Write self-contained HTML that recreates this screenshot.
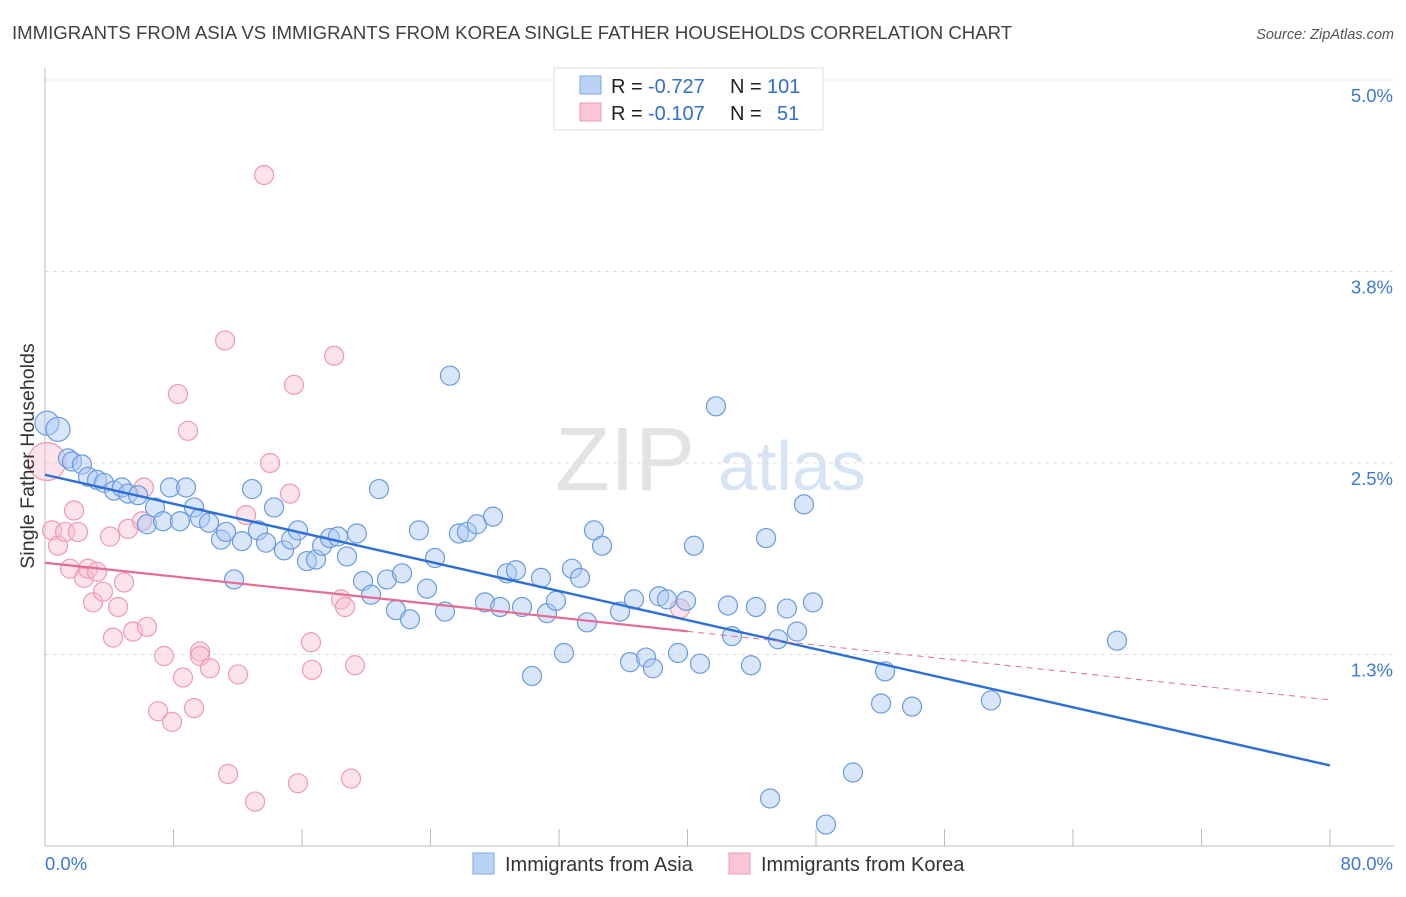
<!DOCTYPE html>
<html><head><meta charset="utf-8"><style>
body{margin:0;background:#fff;font-family:"Liberation Sans",sans-serif;}
svg text{font-family:"Liberation Sans",sans-serif;}
</style></head><body>
<svg id="chart" width="1406" height="892">
<text x="12" y="39" font-size="18.6" fill="#404040">IMMIGRANTS FROM ASIA VS IMMIGRANTS FROM KOREA SINGLE FATHER HOUSEHOLDS CORRELATION CHART</text>
<text x="1394" y="39" font-size="14.5" fill="#555" text-anchor="end" font-style="italic">Source: ZipAtlas.com</text>
<g>
<text x="555" y="490" font-size="90" fill="#e3e3e3" font-family="Liberation Serif">ZIP</text>
<text x="718" y="490" font-size="70" fill="#d6e4f4">atlas</text>
</g>
<g id="grid"></g>
<g id="axes"></g>
<g id="marks"></g>
<g>
<rect x="554" y="68" width="269" height="62" fill="#fff" stroke="#ddd"/>
<rect x="580" y="76" width="21" height="18" fill="#b9d3f5" stroke="#7eaae8"/>
<rect x="580" y="103" width="21" height="18" fill="#f8c6d5" stroke="#ee9ab4"/>
<text x="611" y="93" font-size="20" fill="#222">R =</text>
<text x="648" y="93" font-size="20" fill="#2f6fd0">-0.727</text>
<text x="730" y="93" font-size="20" fill="#222">N =</text>
<text x="767" y="93" font-size="20" fill="#2f6fd0">101</text>
<text x="611" y="120" font-size="20" fill="#222">R =</text>
<text x="648" y="120" font-size="20" fill="#2f6fd0">-0.107</text>
<text x="730" y="120" font-size="20" fill="#222">N =</text>
<text x="777" y="120" font-size="20" fill="#2f6fd0">51</text>
</g>
<g>
<rect x="473" y="853" width="21" height="21" fill="#b9d3f5" stroke="#7eaae8"/>
<text x="505" y="871" font-size="20" fill="#333">Immigrants from Asia</text>
<rect x="729" y="853" width="21" height="21" fill="#f8c6d5" stroke="#ee9ab4"/>
<text x="761" y="871" font-size="20" fill="#333">Immigrants from Korea</text>
</g>
<text transform="translate(34,456) rotate(-90)" font-size="19.6" fill="#333" text-anchor="middle">Single Father Households</text>
</svg>
<script>
const yTicks=[5.0,3.75,2.5,1.25];
const yTickLabels=["5.0%","3.8%","2.5%","1.3%"];
const xTicks=[0,8,16,24,32,40,48,56,64,72,80];
const asiaX=[0.12,0.81,1.43,1.68,2.30,2.68,3.24,3.67,4.30,4.79,5.17,5.79,6.35,6.85,7.35,7.78,8.40,8.78,9.28,9.65,10.21,10.96,11.27,11.77,12.26,12.89,13.26,13.76,14.26,14.88,15.32,15.75,16.31,16.87,17.25,17.74,18.24,18.80,19.42,19.80,20.30,20.79,21.29,21.85,22.23,22.72,23.28,23.78,24.28,24.90,25.21,25.77,26.27,26.89,27.39,27.89,28.33,28.76,29.32,29.70,30.32,30.88,31.25,31.81,32.31,32.81,33.31,33.74,34.18,34.68,35.80,36.42,36.67,37.42,37.85,38.23,38.72,39.41,39.91,40.78,40.40,41.77,42.52,42.77,43.95,44.26,44.89,45.14,45.63,46.19,46.82,47.25,47.81,48.62,50.30,52.05,52.30,53.98,58.89,66.74];
const asiaY=[2.76,2.72,2.53,2.51,2.49,2.41,2.39,2.37,2.32,2.34,2.30,2.29,2.10,2.21,2.12,2.34,2.12,2.34,2.21,2.14,2.11,2.00,2.05,1.74,1.99,2.33,2.06,1.98,2.21,1.93,2.00,2.06,1.86,1.87,1.96,2.01,2.02,1.89,2.04,1.73,1.64,2.33,1.74,1.54,1.78,1.48,2.06,1.68,1.88,1.53,3.07,2.04,2.05,2.10,1.59,2.15,1.56,1.78,1.80,1.56,1.11,1.75,1.52,1.60,1.26,1.81,1.75,1.46,2.06,1.96,1.53,1.20,1.61,1.23,1.16,1.63,1.61,1.26,1.60,1.19,1.96,2.87,1.57,1.37,1.18,1.56,2.01,0.31,1.35,1.55,1.40,2.23,1.59,0.14,0.48,0.93,1.14,0.91,0.95,1.34];
const koreaX=[0.12,0.44,0.81,1.25,1.56,1.81,2.05,2.43,2.68,2.99,3.24,3.61,4.05,4.23,4.55,4.92,5.17,5.48,6.04,6.16,6.35,7.04,7.41,7.91,8.28,8.59,8.90,9.28,9.65,9.65,10.27,11.21,11.40,12.02,12.52,13.08,13.64,14.01,15.25,15.50,15.75,16.56,16.62,18.00,18.43,18.68,19.05,19.30,39.54];
const koreaY=[2.51,2.06,1.96,2.05,1.81,2.19,2.05,1.75,1.81,1.59,1.79,1.66,2.02,1.36,1.56,1.72,2.07,1.40,2.12,2.34,1.43,0.88,1.24,0.81,2.95,1.10,2.71,0.90,1.27,1.24,1.16,3.30,0.47,1.12,2.16,0.29,4.38,2.50,2.30,3.01,0.41,1.33,1.15,3.20,1.61,1.56,0.44,1.18,1.55];
const NS="http://www.w3.org/2000/svg";
const X0=45,X1=1330,Y0=846,PXY=153.2;
const sx=v=>X0+(X1-X0)*v/80, sy=v=>Y0-v*PXY;
function mk(t,a,p){const e=document.createElementNS(NS,t);for(const k in a)e.setAttribute(k,a[k]);document.getElementById(p).appendChild(e);return e;}
yTicks.forEach((t,i)=>{
 const l=mk('line',{x1:45,x2:1394,y1:sy(t),y2:sy(t),stroke:'#ddd','stroke-dasharray':'4,4'},'grid');
 
 
 const tx=mk('text',{x:1393,y:sy(t)+22,'font-size':18.5,fill:'#3b78d8','text-anchor':'end'},'axes');
 tx.textContent=yTickLabels[i];
 
 
});
const ax=mk('line',{x1:45,x2:45,y1:68,y2:846,stroke:'#bbb'},'axes');


const bx=mk('line',{x1:45,x2:1394,y1:846,y2:846,stroke:'#bbb'},'axes');


xTicks.forEach(t=>{const l=mk('line',{x1:sx(t),x2:sx(t),y1:829,y2:846,stroke:'#bbb'},'axes');
 
 });
[["0.0%",45,"start"],["80.0%",1393,"end"]].forEach(d=>{const t=mk('text',{x:d[1],y:870,'font-size':18.5,fill:'#3b78d8','text-anchor':d[2]},'axes');t.textContent=d[0];
 
 });
function fit(xs,ys){const n=Math.min(xs.length,ys.length);let mx=0,my=0;for(let i=0;i<n;i++){mx+=xs[i];my+=ys[i];}mx/=n;my/=n;let a=0,b=0;for(let i=0;i<n;i++){a+=(xs[i]-mx)*(ys[i]-my);b+=(xs[i]-mx)*(xs[i]-mx);}const s=a/b;return [s,my-s*mx];}
koreaX.forEach((x,i)=>{const c=mk('circle',{cx:sx(x),cy:sy(koreaY[i]),r:i==0?19:9.5,fill:'rgba(248,190,208,0.45)',stroke:'#ee9ab4','stroke-width':1.2},'marks');
 
 });
asiaX.forEach((x,i)=>{const c=mk('circle',{cx:sx(x),cy:sy(asiaY[i]),r:i<2?12:9.5,fill:'rgba(170,200,245,0.45)',stroke:'#6a9be0','stroke-width':1.2},'marks');
 
 });
const fa=fit(asiaX,asiaY),fk=fit(koreaX,koreaY);
const la=mk('line',{x1:sx(0),y1:sy(fa[1]),x2:sx(80),y2:sy(fa[1]+fa[0]*80),stroke:'#2d6fd6','stroke-width':2.4},'marks');


const lk=mk('line',{x1:sx(0),y1:sy(fk[1]),x2:sx(40),y2:sy(fk[1]+fk[0]*40),stroke:'#e56b94','stroke-width':2.2},'marks');


const lkd=mk('line',{x1:sx(40),y1:sy(fk[1]+fk[0]*40),x2:sx(80),y2:sy(fk[1]+fk[0]*80),stroke:'#e56b94','stroke-width':1,'stroke-dasharray':'6,5'},'marks');


</script>
</body></html>
